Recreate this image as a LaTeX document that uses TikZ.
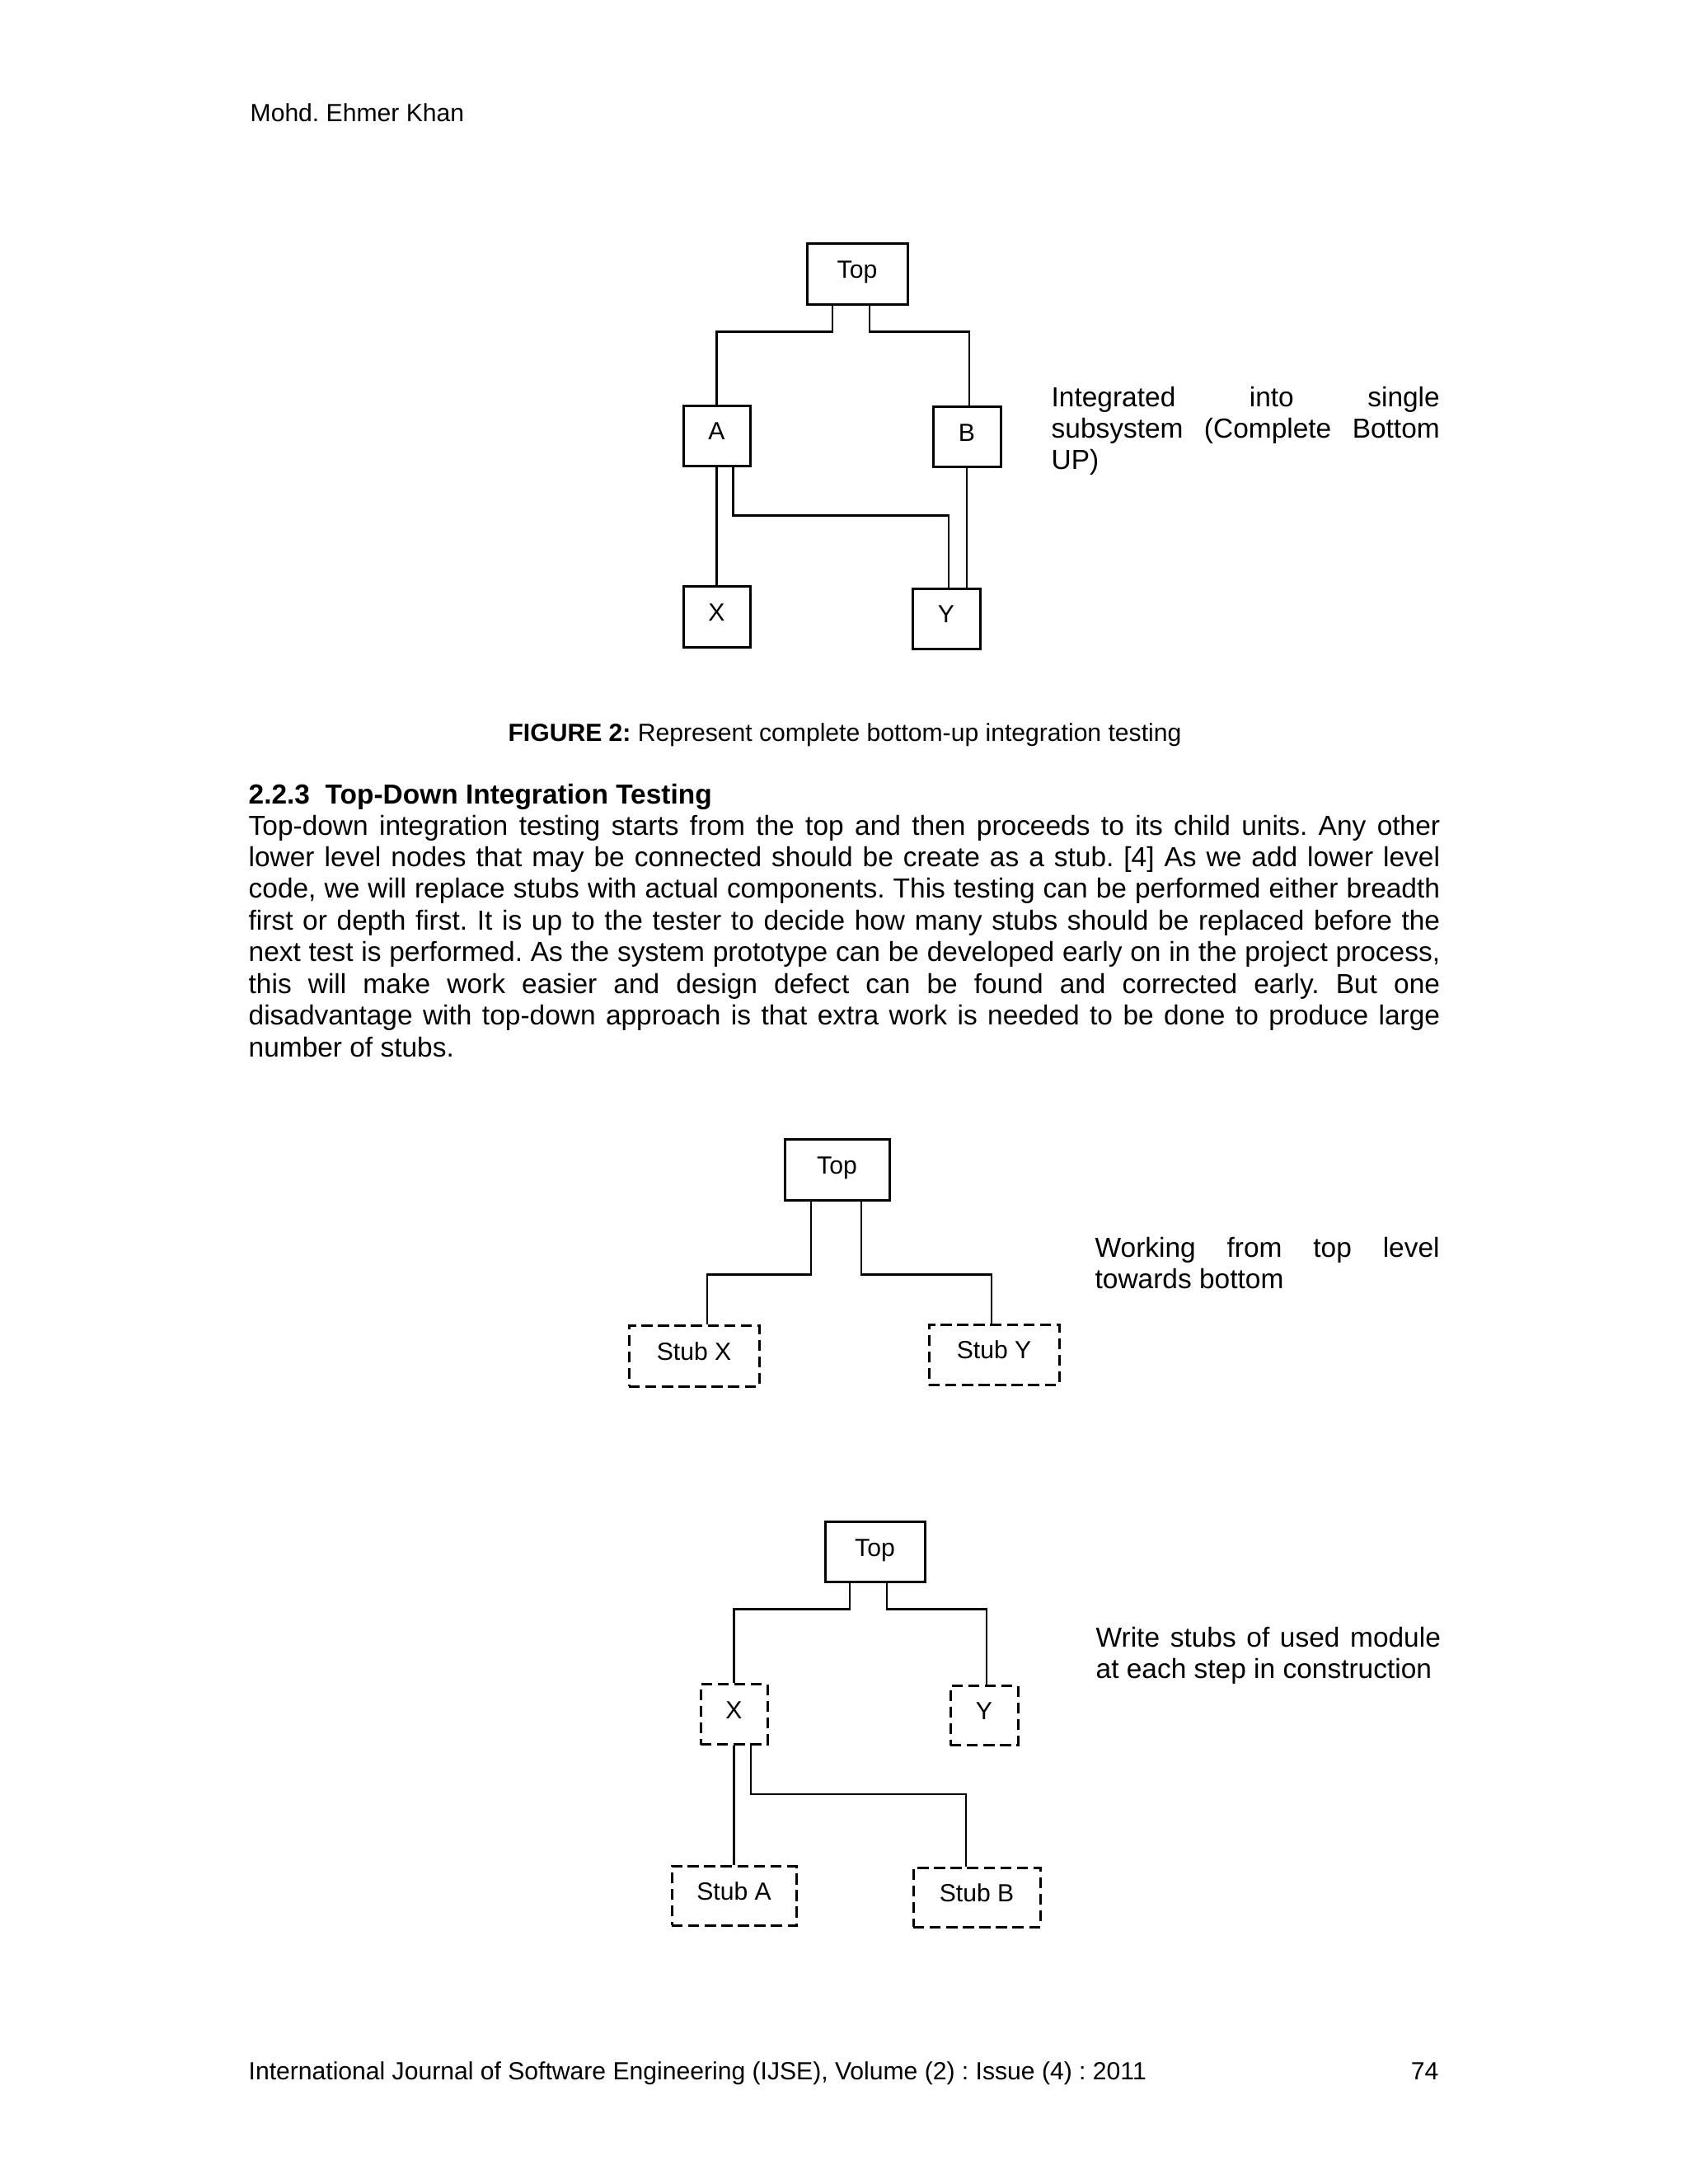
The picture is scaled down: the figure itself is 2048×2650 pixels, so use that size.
\documentclass[tikz,border=0pt]{standalone}
\usepackage{fontspec}
\setmainfont{Liberation Sans}
\usetikzlibrary{calc}
\newcommand{\bodyfont}{\fontsize{10}{11.5}\selectfont}
\newcommand{\smallfnt}{\fontsize{9}{10}\selectfont}
\newcommand{\jpar}[2]{\parbox[t]{#1}{\bodyfont\frenchspacing\hyphenpenalty=10000 \exhyphenpenalty=10000 \tolerance=9999 \hbadness=10000 #2}}
\begin{document}
\frenchspacing
\begin{tikzpicture}[x=0.29885pt,y=-0.29885pt,
  sz/.style 2 args={minimum width=#1*0.29885pt, minimum height=#2*0.29885pt},
  box/.style={draw, line width=0.9pt, inner sep=0pt, font=\smallfnt, text height=7pt, text depth=4pt},
  stubbox/.style={box, dash pattern=on 4pt off 2pt},
  wire/.style={line width=0.85pt},
  thinwire/.style={line width=0.7pt},
  para/.style={inner sep=0pt, anchor=base west}]
\fill[white] (0,0) rectangle (2048,2650);
\useasboundingbox (0,0) rectangle (2048,2650);

% header
\node[para] (hdr) at (303,147) {\smallfnt Mohd. Ehmer Khan};

% Figure 2 (bottom-up)
\node[box, sz={122}{74}] (top1) at (1040,332) {Top};
\node[box, sz={81}{73}] (a1) at (869.5,528.8) {A};
\node[box, sz={82}{73}] (b1) at (1173,530.3) {B};
\node[box, sz={81}{74}] (x1) at (869.5,748.7) {X};
\node[box, sz={82}{73}] (y1) at (1148,750.9) {Y};
\draw[wire] ($(top1.south)+(-30,0)$) -- ++(0,32) -| (a1.north);
\draw[wire] ($(top1.south)+(15,0)$) -- ++(0,32) -| ($(b1.north)+(3,0)$);
\draw[wire] (a1.south) -- (x1.north);
\draw[wire] ($(a1.south)+(20,0)$) -- ++(0,58.5) -| ($(y1.north)+(3,0)$);
\draw[wire] (b1.south) -- (b1.south |- y1.north);
\node[para] (t1) at (1275,493) {\jpar{140.8pt}{Integrated into single\linebreak subsystem (Complete Bottom\linebreak UP)}};

\node[inner sep=0pt, anchor=base] (cap) at (1025,899) {\smallfnt\textbf{FIGURE 2:} Represent complete bottom-up integration testing};

% section text
\node[para] (head) at (301,975) {\bodyfont\bfseries 2.2.3\ \ Top-Down Integration Testing};
\node[para] (body) at (301,1013) {\jpar{432pt}{Top-down integration testing starts from the top and then proceeds to its child units. Any other\linebreak
lower level nodes that may be connected should be create as a stub. [4] As we add lower level\linebreak
code, we will replace stubs with actual components. This testing can be performed either breadth\linebreak
first or depth first. It is up to the tester to decide how many stubs should be replaced before the\linebreak
next test is performed. As the system prototype can be developed early on in the project process,\linebreak
this will make work easier and design defect can be found and corrected early. But one\linebreak
disadvantage with top-down approach is that extra work is needed to be done to produce large\linebreak
number of stubs.}};

% Top-down figure 1
\node[box, sz={127}{74}] (top2) at (1015.5,1419) {Top};
\node[stubbox, sz={158}{74}] (sx) at (842,1645) {Stub X};
\node[stubbox, sz={158}{73}] (sy) at (1206,1643.5) {Stub Y};
\draw[thinwire] ($(top2.south)+(-31.5,0)$) -- ++(0,89) -| ($(sx.north)+(16,0)$);
\draw[thinwire] ($(top2.south)+(29.5,0)$) -- ++(0,89) -| ($(sy.north)+(-3,0)$);
\node[para] (t2) at (1328,1525) {\jpar{124.9pt}{Working from top level\linebreak towards bottom}};

% Top-down figure 2
\node[box, sz={121}{73}] (top3) at (1061.5,1883.2) {Top};
\node[stubbox, sz={81}{73}] (x3) at (890.5,2080.3) {X};
\node[stubbox, sz={82}{72}] (y3) at (1194,2081.7) {Y};
\node[stubbox, sz={151}{72}] (sa) at (890.5,2300.4) {Stub A};
\node[stubbox, sz={154}{72}] (sb) at (1185,2302) {Stub B};
\draw[wire] ($(top3.south)+(-30.5,0)$) -- ++(0,31.6) -| (x3.north);
\draw[wire] ($(top3.south)+(14.5,0)$) -- ++(0,31.6) -| ($(y3.north)+(3,0)$);
\draw[wire] (x3.south) -- (sa.north);
\draw[wire] ($(x3.south)+(20.5,0)$) -- ++(0,58.6) -| ($(sb.north)+(-13,0)$);
\node[para] (t3) at (1329,1998) {\jpar{125pt}{Write stubs of used module\linebreak at each step in construction}};

% footer
\node[para] (ftr) at (301,2523) {\smallfnt International Journal of Software Engineering (IJSE), Volume (2) : Issue (4) : 2011};
\node[inner sep=0pt, anchor=base east] (pg) at (1746,2523) {\smallfnt 74};
\end{tikzpicture}
\end{document}
